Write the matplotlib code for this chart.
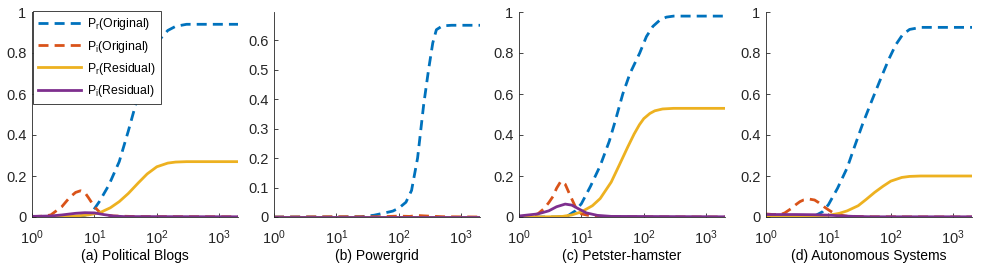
import matplotlib
matplotlib.use("Agg")
import matplotlib.pyplot as plt
from matplotlib.ticker import FormatStrFormatter, LogLocator, NullLocator

plt.rcParams['font.family'] = ['Liberation Sans', 'DejaVu Sans']
plt.rcParams['mathtext.default'] = 'regular'
plt.rcParams['font.size'] = 10

blue = '#0072BD'
orange = '#D95319'
yellow = '#EDB120'
purple = '#7E2F8E'

titles = ['(a) Political Blogs', '(b) Powergrid', '(c) Petster-hamster', '(d) Autonomous Systems']
labels = ['P$_r$(Original)', 'P$_i$(Original)', 'P$_r$(Residual)', 'P$_i$(Residual)']

# (a) Political Blogs
a_pr_orig_x = [1, 3, 5, 7, 9, 12, 17, 25, 35, 45, 60, 80, 100, 150, 200, 300, 2000]
a_pr_orig_y = [0, 0, 0.002, 0.008, 0.02, 0.075, 0.155, 0.27, 0.42, 0.54, 0.68, 0.79, 0.85, 0.91, 0.93, 0.94, 0.94]
a_pi_orig_x = [1, 1.5, 2, 3, 4, 5, 6, 7, 8, 10, 12, 15, 20, 50, 2000]
a_pi_orig_y = [0.002, 0.004, 0.01, 0.05, 0.095, 0.12, 0.128, 0.12, 0.095, 0.05, 0.025, 0.01, 0.005, 0.002, 0.001]
a_pr_res_x = [1, 3, 5, 8, 12, 18, 25, 35, 50, 70, 100, 150, 200, 300, 2000]
a_pr_res_y = [0.002, 0.003, 0.005, 0.01, 0.02, 0.045, 0.075, 0.115, 0.165, 0.21, 0.245, 0.263, 0.268, 0.27, 0.27]
a_pi_res_x = [1, 2, 3, 5, 7, 10, 14, 20, 30, 2000]
a_pi_res_y = [0.003, 0.005, 0.01, 0.018, 0.021, 0.02, 0.012, 0.005, 0.002, 0.001]

# (b) Powergrid
b_pr_orig_x = [1, 10, 25, 40, 60, 80, 100, 130, 160, 200, 250, 300, 350, 400, 500, 700, 2000]
b_pr_orig_y = [0, 0, 0.001, 0.006, 0.014, 0.02, 0.03, 0.05, 0.09, 0.2, 0.38, 0.5, 0.59, 0.635, 0.648, 0.65, 0.65]
b_pi_orig_x = [1, 10, 50, 100, 150, 200, 300, 500, 2000]
b_pi_orig_y = [0, 0.001, 0.001, 0.003, 0.002, 0.005, 0.003, 0.001, 0]
b_pr_res_x = [1, 2000]
b_pr_res_y = [0, 0]
b_pi_res_x = [1, 2000]
b_pi_res_y = [0, 0]

# (c) Petster-hamster
c_pr_orig_x = [1, 4, 6, 8, 10, 14, 20, 28, 35, 46, 60, 86, 110, 140, 180, 230, 300, 2000]
c_pr_orig_y = [0, 0, 0.005, 0.03, 0.065, 0.15, 0.25, 0.37, 0.47, 0.6, 0.7, 0.8, 0.88, 0.93, 0.96, 0.975, 0.98, 0.98]
c_pi_orig_x = [1, 1.5, 2, 2.5, 3, 3.5, 4, 4.7, 5.5, 6.5, 8, 10, 15, 30, 2000]
c_pi_orig_y = [0.002, 0.005, 0.015, 0.04, 0.07, 0.1, 0.14, 0.175, 0.16, 0.11, 0.05, 0.015, 0.004, 0.001, 0]
c_pr_res_x = [1, 3, 5, 7, 10, 15, 20, 30, 40, 55, 70, 85, 100, 125, 150, 200, 300, 2000]
c_pr_res_y = [0, 0.001, 0.003, 0.01, 0.025, 0.055, 0.09, 0.17, 0.25, 0.34, 0.405, 0.45, 0.48, 0.505, 0.518, 0.527, 0.53, 0.53]
c_pi_res_x = [1, 2, 3, 4, 5.5, 7, 9, 12, 18, 30, 2000]
c_pi_res_y = [0.005, 0.015, 0.03, 0.05, 0.063, 0.058, 0.04, 0.02, 0.008, 0.003, 0.001]

# (d) Autonomous Systems
d_pr_orig_x = [1, 4, 6, 8, 10, 14, 20, 26, 35, 50, 70, 93, 120, 155, 200, 300, 2000]
d_pr_orig_y = [0, 0, 0.005, 0.025, 0.06, 0.14, 0.24, 0.34, 0.45, 0.57, 0.68, 0.77, 0.84, 0.89, 0.915, 0.925, 0.925]
d_pi_orig_x = [1, 1.3, 1.7, 2, 2.5, 3, 3.5, 4, 5, 6, 7, 8.5, 10, 12, 15, 20, 50, 2000]
d_pi_orig_y = [0.015, 0.012, 0.012, 0.02, 0.04, 0.06, 0.075, 0.083, 0.087, 0.083, 0.07, 0.05, 0.035, 0.02, 0.01, 0.004, 0.001, 0]
d_pr_res_x = [1, 5, 10, 15, 20, 30, 40, 55, 75, 100, 150, 200, 300, 2000]
d_pr_res_y = [0.002, 0.003, 0.008, 0.018, 0.03, 0.055, 0.085, 0.12, 0.15, 0.175, 0.193, 0.198, 0.2, 0.2]
d_pi_res_x = [1, 3, 6, 10, 15, 25, 50, 2000]
d_pi_res_y = [0.012, 0.012, 0.011, 0.009, 0.006, 0.003, 0.001, 0.001]

panels = [
    (a_pr_orig_x, a_pr_orig_y, a_pi_orig_x, a_pi_orig_y, a_pr_res_x, a_pr_res_y, a_pi_res_x, a_pi_res_y),
    (b_pr_orig_x, b_pr_orig_y, b_pi_orig_x, b_pi_orig_y, b_pr_res_x, b_pr_res_y, b_pi_res_x, b_pi_res_y),
    (c_pr_orig_x, c_pr_orig_y, c_pi_orig_x, c_pi_orig_y, c_pr_res_x, c_pr_res_y, c_pi_res_x, c_pi_res_y),
    (d_pr_orig_x, d_pr_orig_y, d_pi_orig_x, d_pi_orig_y, d_pr_res_x, d_pr_res_y, d_pi_res_x, d_pi_res_y),
]
ylims = [1.0, 0.695, 1.0, 1.0]
yticks = [[0, 0.2, 0.4, 0.6, 0.8, 1], [0, 0.1, 0.2, 0.3, 0.4, 0.5, 0.6],
          [0, 0.2, 0.4, 0.6, 0.8, 1], [0, 0.2, 0.4, 0.6, 0.8, 1]]
lefts = [32, 274, 519, 766]

fig = plt.figure(figsize=(9.81, 2.7), dpi=100)
axc = '#262626'
dash = (0, (3.6, 2.2))

for i, p in enumerate(panels):
    ax = fig.add_axes([lefts[i] / 981, 53 / 270, 206 / 981, 205 / 270])
    ax.plot(p[0], p[1], color=blue, lw=2, ls=dash, label=labels[0])
    ax.plot(p[2], p[3], color=orange, lw=2, ls=dash, label=labels[1])
    ax.plot(p[4], p[5], color=yellow, lw=2, label=labels[2])
    ax.plot(p[6], p[7], color=purple, lw=2, label=labels[3])
    ax.set_xscale('log')
    ax.set_xlim(1, 2000)
    ax.set_ylim(0, ylims[i])
    ax.xaxis.set_major_locator(LogLocator(base=10, numticks=10))
    ax.xaxis.set_minor_locator(NullLocator())
    ax.set_yticks(yticks[i])
    ax.yaxis.set_major_formatter(FormatStrFormatter('%g'))
    for s in ['top', 'right']:
        ax.spines[s].set_visible(False)
    for s in ['left', 'bottom']:
        ax.spines[s].set_color(axc)
        ax.spines[s].set_linewidth(0.6)
    ax.tick_params(direction='in', length=3, width=0.6, colors=axc, labelsize=10.5)
    ax.tick_params(axis='x', pad=8)
    ax.tick_params(axis='y', pad=4)
    ax.set_xlabel(titles[i], fontsize=10, color='black', labelpad=2)
    if i == 0:
        leg = ax.legend(loc='upper left', bbox_to_anchor=(0.003, 1.005), borderaxespad=0,
                        fontsize=8.8, handlelength=3.5, fancybox=False, framealpha=1,
                        edgecolor=axc, borderpad=0.45, labelspacing=0.5, handletextpad=0.5)
        leg.get_frame().set_linewidth(0.6)

fig.savefig('out.png', dpi=100)
